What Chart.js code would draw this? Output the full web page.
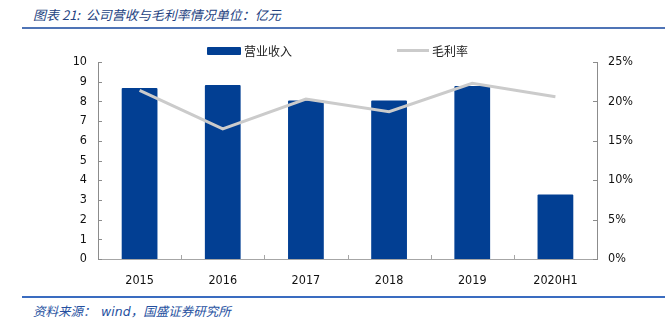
<!DOCTYPE html>
<html>
<head>
<meta charset="utf-8">
<script src="https://cdn.jsdelivr.net/npm/chart.js@4.4.1/dist/chart.umd.min.js"></script>
<style>
  body { margin: 0; background: #fff; }
  #wrap { position: relative; width: 665px; height: 325px; overflow: hidden; }
  #title { position: absolute; left: 33px; top: 5px; font: italic 13px "Noto Sans CJK SC", sans-serif; color: #24427f; white-space: pre; }
  #topRule { position: absolute; left: 22px; right: 0; top: 27px; height: 2px; background: #4f74b6; }
  #bottomRule { position: absolute; left: 22px; right: 0; top: 296px; height: 2px; background: #3a6cc0; }
  #source { position: absolute; left: 33px; top: 301px; font: italic 12.5px "Noto Sans CJK SC", sans-serif; color: #2550a0; white-space: pre; }
  #source .en { font-family: "DejaVu Sans", sans-serif; font-size: 12.5px; }
  .legend { position: absolute; top: 42px; font: 12px "Noto Sans CJK SC", sans-serif; color: #222; }
  .swatch { position: absolute; }
  canvas { position: absolute; left: 0; top: 0; }
</style>
</head>
<body>
<div id="wrap">
  <div id="title">图表 21:  公司营收与毛利率情况单位：亿元</div>
  <div id="topRule"></div>
  <canvas id="chart" width="665" height="290"></canvas>
  <div class="swatch" style="left:207px;top:47px;width:34px;height:8px;background:#023f93;border-radius:1px;"></div>
  <div class="legend" style="left:244px;">营业收入</div>
  <div class="swatch" style="left:397px;top:49px;width:32px;height:3px;background:#cbcbcb;"></div>
  <div class="legend" style="left:432px;">毛利率</div>
  <div id="bottomRule"></div>
  <div id="source">资料来源：  <span class="en">wind</span>，国盛证券研究所</div>
</div>

<script>
const categories = ["2015", "2016", "2017", "2018", "2019", "2020H1"];
const revenue = [8.68, 8.83, 8.05, 8.05, 8.78, 3.28];   // 亿元
const grossMargin = [21.4, 16.5, 20.3, 18.7, 22.3, 20.6]; // %

const tickFont = { family: "'DejaVu Sans Condensed', 'DejaVu Sans', sans-serif", size: 12.5 };

// short tick marks pointing into the plot area
const innerTicks = {
  id: "innerTicks",
  afterDraw(chart) {
    const ctx = chart.ctx;
    const area = chart.chartArea;
    const y = chart.scales.y;
    const y1 = chart.scales.y1;
    ctx.save();
    ctx.lineWidth = 1;
    ctx.strokeStyle = "#8c8c8c";
    y.ticks.forEach((t, i) => {
      const py = Math.round(y.getPixelForTick(i)) + 0.5;
      ctx.beginPath();
      ctx.moveTo(area.left, py);
      ctx.lineTo(area.left + 4, py);
      ctx.stroke();
    });
    y1.ticks.forEach((t, i) => {
      const py = Math.round(y1.getPixelForTick(i)) + 0.5;
      ctx.beginPath();
      ctx.moveTo(area.right - 4, py);
      ctx.lineTo(area.right, py);
      ctx.stroke();
    });
    ctx.strokeStyle = "#a6a6a6";
    const step = (area.right - area.left) / categories.length;
    for (let i = 1; i < categories.length; i++) {
      const px = Math.round(area.left + step * i) + 0.5;
      ctx.beginPath();
      ctx.moveTo(px, area.bottom);
      ctx.lineTo(px, area.bottom - 4);
      ctx.stroke();
    }
    ctx.restore();
  }
};

new Chart(document.getElementById("chart"), {
  data: {
    labels: categories,
    datasets: [
      {
        type: "line",
        label: "毛利率",
        data: grossMargin,
        yAxisID: "y1",
        borderColor: "#cbcbcb",
        borderWidth: 3,
        pointRadius: 0,
        tension: 0,
        order: 0
      },
      {
        type: "bar",
        label: "营业收入",
        data: revenue,
        yAxisID: "y",
        backgroundColor: "#023f93",
        borderRadius: 1,
        categoryPercentage: 1,
        barPercentage: 0.43,
        order: 1
      }
    ]
  },
  options: {
    responsive: false,
    animation: false,
    events: [],
    layout: { padding: { top: 62, left: 0, right: 0, bottom: 0 } },
    plugins: { legend: { display: false }, tooltip: { enabled: false } },
    scales: {
      x: {
        offset: true,
        grid: { display: false },
        border: { color: "#a6a6a6", width: 1 },
        ticks: { color: "#111", font: tickFont, padding: 6 },
        afterFit(scale) { scale.height = 31; }
      },
      y: {
        position: "left",
        min: 0,
        max: 10,
        grid: { display: false, drawTicks: false },
        border: { color: "#8c8c8c", width: 1 },
        ticks: { stepSize: 1, color: "#111", font: tickFont, padding: 11 },
        afterFit(scale) { scale.width = 98; }
      },
      y1: {
        position: "right",
        min: 0,
        max: 25,
        grid: { display: false, drawTicks: false },
        border: { color: "#8c8c8c", width: 1 },
        ticks: {
          stepSize: 5,
          color: "#111",
          font: tickFont,
          padding: 11,
          callback: v => v + "%"
        },
        afterFit(scale) { scale.width = 68; }
      }
    }
  },
  plugins: [innerTicks]
});
</script>
</body>
</html>
